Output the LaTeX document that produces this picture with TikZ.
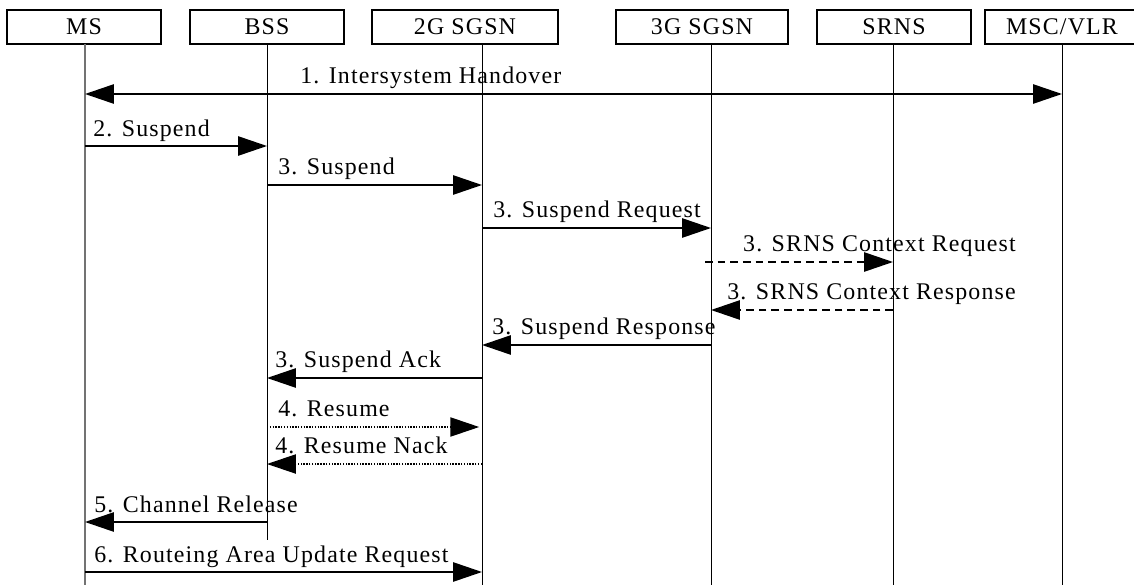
\documentclass[tikz,border=0pt]{standalone}
\usepackage{fontspec}
\setmainfont{Liberation Serif}[LetterSpace=4.8]
\usetikzlibrary{arrows.meta,calc}

\begin{document}
\begin{tikzpicture}[
        x=0.025cm, y=-0.025cm,
        box/.style={rectangle, draw=black, line width=1.1pt, minimum height=0.85cm,
            inner sep=0pt, font=\fontsize{17}{20}\selectfont},
        life/.style={line width=0.6pt, draw=black},
        tip/.style={-{Triangle[length=0.72cm, width=0.48cm]}},
        msg/.style={tip, line width=1.2pt},
        both/.style={{Triangle[length=0.72cm, width=0.48cm]}-{Triangle[length=0.72cm, width=0.48cm]}, line width=1.2pt},
        dsh/.style={msg, dash pattern=on 5.5pt off 3.5pt},
        dot/.style={tip, line width=0.9pt, dash pattern=on 1pt off 1pt},
        lbl/.style={font=\fontsize{17}{20}\selectfont, inner sep=0pt, anchor=base west}
    ]
    \useasboundingbox (0,0) rectangle (1134,585);

    % Entities
    \node[box, minimum width=3.85cm] (ms) at (84,27) {MS};
    \node[box, minimum width=3.85cm] (bss) at (267,27) {BSS};
    \node[box, minimum width=4.65cm] (sgsnA) at (465,27) {2G SGSN};
    \node[box, minimum width=4.3cm] (sgsnB) at (702,27) {3G SGSN};
    \node[box, minimum width=3.85cm] (srns) at (894,27) {SRNS};
    \node[box, minimum width=3.85cm] (msc) at (1062,27) {MSC/VLR};

    % Lifelines
    \coordinate (lMS) at (85,44);
    \coordinate (lBSS) at (267,44);
    \coordinate (l2G) at (482,44);
    \coordinate (l3G) at (711,44);
    \coordinate (lSRNS) at (893,44);
    \coordinate (lMSC) at (1062,44);
    \coordinate (bot) at (0,585);
    \coordinate (bssEnd) at (267,540);

    \draw[life, draw=black!55, line width=1.1pt] (lMS) -- (lMS |- bot);
    \draw[life] (lBSS) -- (bssEnd);
    \draw[life] (l2G) -- (l2G |- bot);
    \draw[life] (l3G) -- (l3G |- bot);
    \draw[life] (lSRNS) -- (lSRNS |- bot);
    \draw[life] (lMSC) -- (lMSC |- bot);

    % Message rows
    \coordinate (r1) at (0,94);
    \coordinate (r2) at (0,146);
    \coordinate (r3) at (0,185);
    \coordinate (r4) at (0,228);
    \coordinate (r5) at (0,262);
    \coordinate (r6) at (0,310);
    \coordinate (r7) at (0,345);
    \coordinate (r8) at (0,378);
    \coordinate (r9) at (0,427);
    \coordinate (r10) at (0,464);
    \coordinate (r11) at (0,522);
    \coordinate (r12) at (0,572);

    \draw[both] (lMS |- r1) -- (lMSC |- r1);
    \draw[msg] (lMS |- r2) -- (lBSS |- r2);
    \draw[msg] (lBSS |- r3) -- (l2G |- r3);
    \draw[msg] (l2G |- r4) -- (l3G |- r4);
    \draw[dsh] ($(l3G |- r5)+(-6,0)$) -- (lSRNS |- r5);
    \draw[dsh] (lSRNS |- r6) -- (l3G |- r6);
    \draw[msg] (l3G |- r7) -- (l2G |- r7);
    \draw[msg] (l2G |- r8) -- (lBSS |- r8);
    \draw[dot, shorten >=2pt] (lBSS |- r9) -- (l2G |- r9);
    \draw[dot] (l2G |- r10) -- (lBSS |- r10);
    \draw[msg] (lBSS |- r11) -- (lMS |- r11);
    \draw[msg] (lMS |- r12) -- (l2G |- r12);

    % Labels
    \node[lbl] (t1) at (300,83) {1. Intersystem Handover};
    \node[lbl] (t2) at (93,136) {2. Suspend};
    \node[lbl] (t3) at (278,174) {3. Suspend};
    \node[lbl] (t4) at (493,217) {3. Suspend Request};
    \node[lbl, anchor=base east] (t5) at (1016,251) {3. SRNS Context Request};
    \node[lbl, anchor=base east] (t6) at (1016,299) {3. SRNS Context Response};
    \node[lbl] (t7) at (492,334) {3. Suspend Response};
    \node[lbl] (t8) at (275,367) {3. Suspend Ack};
    \node[lbl] (t9) at (278,416) {4. Resume};
    \node[lbl] (t10) at (275,453) {4. Resume Nack};
    \node[lbl] (t11) at (94,512) {5. Channel Release};
    \node[lbl] (t12) at (94,562) {6. Routeing Area Update Request};
\end{tikzpicture}
\end{document}
